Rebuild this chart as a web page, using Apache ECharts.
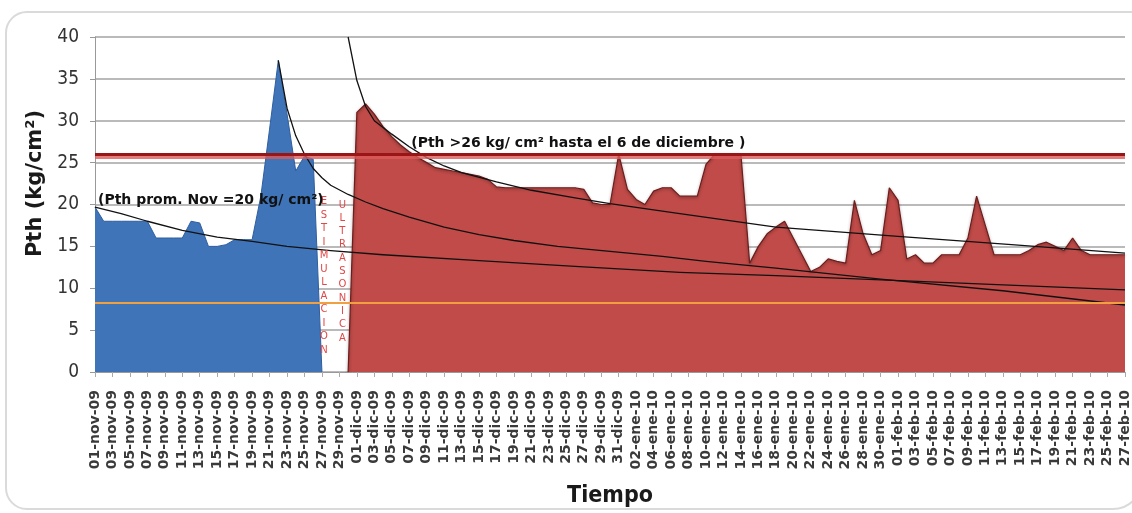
<!DOCTYPE html>
<html>
<head>
<meta charset="utf-8">
<title>Pth</title>
<script src="https://cdn.jsdelivr.net/npm/echarts@6/dist/echarts.min.js"></script>
<style>
  html, body { margin: 0; padding: 0; background: #fff; overflow: hidden; }
  #marco { position: absolute; left: 5px; top: 11px; width: 1138px; height: 499px; border: 2px solid #dadada; border-radius: 22px 0 30px 22px; box-sizing: border-box; }
  #grafico { position: absolute; left: 0; top: 0; width: 1132px; height: 513px; }
</style>
</head>
<body>
<div id="marco"></div>
<div id="grafico"></div>
<script>
  // meses del eje: nombre, año, días mostrados
  var meses = [['nov', '09', 30], ['dic', '09', 31], ['ene', '10', 31], ['feb', '10', 27]];
  var fechas = [];
  meses.forEach(function (m) {
    for (var d = 1; d <= m[2]; d++) {
      fechas.push((d < 10 ? '0' + d : '' + d) + '-' + m[0] + '-' + m[1]);
    }
  });

  // Pth noviembre (01-nov a 27-nov)
  var pthNov = [19.7, 18, 18, 18, 18, 18, 18, 16, 16, 16, 16, 18, 17.8, 15, 15, 15.2, 15.8, 15.8, 15.8,
    21, 29, 37.2, 30.8, 24, 25.8, 25.4, 0];
  // Pth tras la estimulación (30-nov a 27-feb)
  var pthPost = [0, 31, 32, 30.8, 29.3, 28.1, 27.1, 26.3, 25.6, 25, 24.4, 24.2, 24, 23.8, 23.6, 23.4, 23,
    22.1, 22, 22, 22, 22, 22, 22, 22, 22, 22, 21.8, 20.2, 20, 20, 26, 21.8, 20.6, 20, 21.6, 22, 22,
    21, 21, 21, 24.8, 26, 26, 26, 26, 13, 15, 16.5, 17.3, 18, 16, 14, 12, 12.5, 13.5, 13.2, 13,
    20.5, 16.5, 14, 14.5, 22, 20.5, 13.5, 14, 13, 13, 14, 14, 14, 16, 21, 17.5, 14, 14, 14, 14,
    14.5, 15.2, 15.5, 15, 14.5, 16, 14.5, 14, 14, 14, 14, 14];
  var inicioPost = 29;

  // líneas de tendencia [día, valor]
  var tendNov = [[0, 19.7], [3, 18.9], [6, 18.0], [10, 16.9], [14, 16.1], [18, 15.6], [22, 15.0],
    [27, 14.5], [33, 14.0], [44, 13.3], [55, 12.6], [67, 11.9], [78, 11.5], [95, 10.8], [118, 9.8]];
  var tendPico = [[21, 37.2], [22, 31.5], [23, 28.2], [24, 26], [25, 24.3], [26, 23.2], [27, 22.3],
    [29, 21.2], [31, 20.3], [33, 19.5], [36, 18.5], [40, 17.3], [44, 16.4], [48, 15.7], [53, 15.0],
    [59, 14.4], [65, 13.8], [70, 13.2], [78, 12.4], [90, 11.1], [104, 9.7], [118, 8.0]];
  var tendPost = [[29, 40], [30, 34.8], [31, 31.7], [32, 30.0], [33, 29.2], [34, 28.4], [36, 26.9],
    [38, 25.6], [40, 24.6], [42, 23.8], [46, 22.7], [50, 21.7], [55, 20.8], [59, 20.1], [67, 18.9],
    [78, 17.3], [92, 16.2], [105, 15.2], [118, 14.2]];

  var pthLimite = 26;
  var pthMinimo = 8.3;

  var serieNov = fechas.map(function (f, i) { return i < pthNov.length ? pthNov[i] : '-'; });
  var seriePost = fechas.map(function (f, i) { return i >= inicioPost ? pthPost[i - inicioPost] : '-'; });

  var fuenteNegrita = { fontFamily: 'DejaVu Sans', fontWeight: 'bold', color: '#111' };

  var myChart = echarts.init(document.getElementById('grafico'));

  var lineaTend = function (datos) {
    return {
      type: 'line',
      data: datos,
      symbol: 'none',
      smooth: false,
      z: 4,
      lineStyle: { color: '#111', width: 1.3, join: 'round' }
    };
  };

  var option = {
    animation: false,
    grid: { left: 95, right: 2, top: 37, bottom: 138 },
    xAxis: {
      type: 'category',
      data: fechas,
      boundaryGap: false,
      name: 'Tiempo',
      nameLocation: 'middle',
      nameGap: 113,
      nameTextStyle: { fontFamily: 'Liberation Sans Narrow, DejaVu Sans Condensed, Liberation Sans', fontWeight: 'bold', fontSize: 23, color: '#1a1a1a' },
      axisLine: { lineStyle: { color: '#999', width: 1 } },
      axisTick: { interval: 1, length: 5, lineStyle: { color: '#aaa' } },
      axisLabel: { interval: 1, rotate: 90, margin: 18, fontSize: 14, fontFamily: 'DejaVu Sans', fontWeight: 'bold', color: '#3a3a3a' },
      splitLine: { show: false }
    },
    yAxis: {
      type: 'value',
      min: 0,
      max: 40,
      interval: 5,
      name: 'Pth (kg/cm²)',
      nameLocation: 'middle',
      nameGap: 47,
      nameTextStyle: { fontFamily: 'DejaVu Sans', fontWeight: 'bold', fontSize: 21, color: '#1a1a1a', padding: [0, 0, 0, 42] },
      axisLine: { show: true, lineStyle: { color: '#999' } },
      axisTick: { show: true, length: 5, lineStyle: { color: '#999' } },
      axisLabel: { margin: 16, fontSize: 19, fontFamily: 'Liberation Sans Narrow, DejaVu Sans Condensed, Liberation Sans', color: '#333' },
      splitLine: { lineStyle: { color: '#a3a3a3', width: 1.5 } }
    },
    series: [
      {
        type: 'line',
        data: serieNov,
        symbol: 'none',
        z: 2,
        lineStyle: { color: '#2f5f9e', width: 1 },
        areaStyle: { color: '#3f74b9', opacity: 1 },
        markPoint: {
          symbol: 'circle',
          symbolSize: 0,
          silent: true,
          data: [
            { coord: [26, 11.5], label: { show: true, position: 'inside', offset: [2, 0], formatter: 'E\nS\nT\nI\nM\nU\nL\nA\nC\nI\nO\nN', color: '#e04848', fontSize: 10, lineHeight: 13.5, fontFamily: 'DejaVu Sans' } },
            { coord: [28, 12], label: { show: true, position: 'inside', offset: [3, 0], formatter: 'U\nL\nT\nR\nA\nS\nO\nN\nI\nC\nA', color: '#e04848', fontSize: 10, lineHeight: 13.3, fontFamily: 'DejaVu Sans' } }
          ]
        }
      },
      {
        type: 'line',
        data: seriePost,
        symbol: 'none',
        z: 2,
        lineStyle: { color: '#6e1c1c', width: 1.2, shadowColor: 'rgba(0,0,0,0.45)', shadowBlur: 3, shadowOffsetY: 1 },
        areaStyle: { color: '#c04b48', opacity: 1 }
      },
      Object.assign(lineaTend(tendNov), {
        markLine: {
          symbol: 'none',
          silent: true,
          label: { show: false },
          data: [
            { yAxis: pthLimite, lineStyle: { color: '#9a1515', width: 3, type: 'solid', shadowColor: 'rgba(220,90,90,0.8)', shadowOffsetY: 3, shadowBlur: 0 } },
            { yAxis: pthMinimo, lineStyle: { color: '#f0a040', width: 2, type: 'solid' } }
          ]
        },
        markPoint: {
          symbol: 'circle',
          symbolSize: 0,
          silent: true,
          z: 10,
          data: [
            { coord: [0, 20.5], label: Object.assign({ show: true, position: 'right', distance: 3, fontSize: 14, formatter: '(Pth prom. Nov =20 kg/ cm²)' }, fuenteNegrita) },
            { coord: [36, 27.3], label: Object.assign({ show: true, position: 'right', distance: 2, fontSize: 14, formatter: '(Pth >26 kg/ cm² hasta el 6 de diciembre )' }, fuenteNegrita) }
          ]
        }
      }),
      lineaTend(tendPico),
      lineaTend(tendPost)
    ]
  };

  myChart.setOption(option);

  window.addEventListener('resize', function () {
    myChart.resize();
  });
</script>
</body>
</html>
